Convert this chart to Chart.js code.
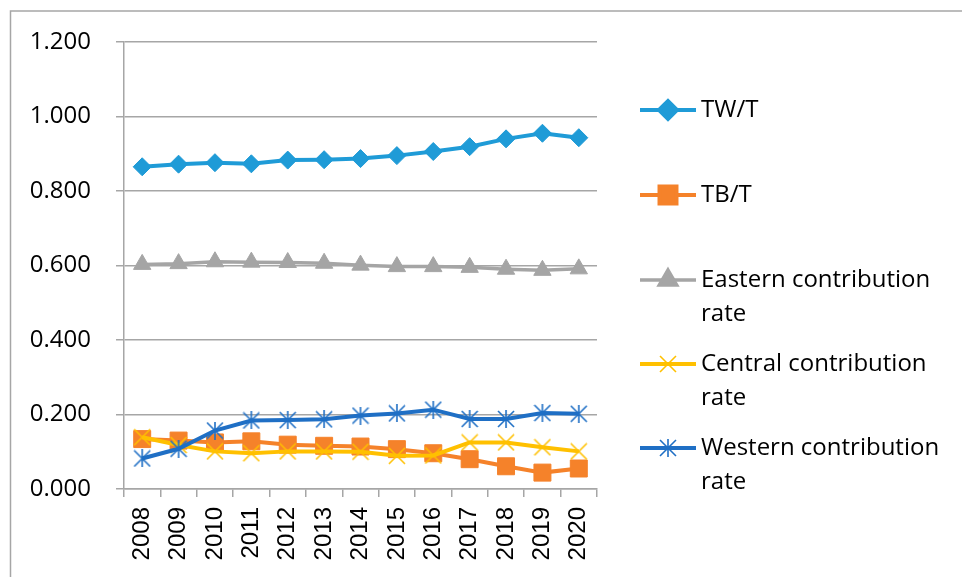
<!DOCTYPE html>
<html>
<head>
<meta charset="utf-8">
<script src="https://cdn.jsdelivr.net/npm/chart.js@4.4.1/dist/chart.umd.min.js"></script>
<style>
    html, body {margin: 0; padding: 0; background: #fff;}
    #wrap {position: relative; width: 962px; height: 577px;}
</style>
</head>
<body>
<div id="wrap"><canvas id="chart" width="962" height="577"></canvas></div>
<script>
const years = ['2008', '2009', '2010', '2011', '2012', '2013', '2014', '2015', '2016', '2017', '2018', '2019', '2020'];

const twT = [0.865, 0.872, 0.876, 0.873, 0.883, 0.884, 0.887, 0.895, 0.906, 0.919, 0.940, 0.955, 0.943];
const tbT = [0.134, 0.130, 0.125, 0.128, 0.119, 0.116, 0.114, 0.107, 0.096, 0.080, 0.061, 0.044, 0.055];
const eastern = [0.603, 0.605, 0.610, 0.609, 0.608, 0.606, 0.601, 0.597, 0.597, 0.595, 0.590, 0.587, 0.591];
const central = [0.139, 0.118, 0.101, 0.096, 0.101, 0.101, 0.100, 0.089, 0.090, 0.125, 0.125, 0.112, 0.101];
const western = [0.082, 0.108, 0.157, 0.184, 0.185, 0.187, 0.197, 0.203, 0.213, 0.188, 0.188, 0.204, 0.202];

const yTicks = [0, 0.2, 0.4, 0.6, 0.8, 1.0, 1.2];

const GRID = '#a6a6a6';
const LEGEND_X = 640;          // where legend line samples start
const LEGEND_TOP = 110;        // centre of first legend row
const LEGEND_STEP = [85, 85, 84, 84];
const LEGEND_LINE_H = 34;

// small canvases for the asterisk / cross markers
function markerCanvas(size, color, withVertical) {
    const c = document.createElement('canvas');
    c.width = size;
    c.height = size;
    const g = c.getContext('2d');
    g.strokeStyle = color;
    g.lineWidth = 1.6;
    g.beginPath();
    g.moveTo(1, 1); g.lineTo(size - 1, size - 1);
    g.moveTo(size - 1, 1); g.lineTo(1, size - 1);
    if (withVertical) {
        g.moveTo(size / 2, 0); g.lineTo(size / 2, size);
    }
    g.stroke();
    return c;
}

const crossMark = markerCanvas(18, '#ffc000', false);
const starMark = markerCanvas(18, '#1f6fc5', true);

const frame_plugin = {
    id: 'outerFrame',
    beforeDraw: (chart) => {
        const {ctx} = chart;
        ctx.save();
        ctx.fillStyle = '#fff';
        ctx.fillRect(0, 0, chart.width, chart.height);
        ctx.strokeStyle = '#a6a6a6';
        ctx.lineWidth = 1.5;
        ctx.beginPath();
        ctx.moveTo(10.5, chart.height);
        ctx.lineTo(10.5, 11);
        ctx.lineTo(chart.width, 11);
        ctx.stroke();
        ctx.restore();
    }
};

// legend on the right, wrapping long names onto a second row
const legend_plugin = {
    id: 'sideLegend',
    afterDraw: (chart) => {
        const {ctx} = chart;
        const maxW = chart.width - LEGEND_X - 70;
        ctx.save();
        ctx.font = '24px "Open Sans"';
        ctx.textBaseline = 'middle';
        ctx.textAlign = 'left';
        let y = LEGEND_TOP;
        chart.data.datasets.forEach((ds, i) => {
            // sample line
            ctx.strokeStyle = ds.borderColor;
            ctx.lineWidth = ds.borderWidth;
            ctx.beginPath();
            ctx.moveTo(LEGEND_X, y);
            ctx.lineTo(LEGEND_X + 56, y);
            ctx.stroke();
            // marker
            ctx.fillStyle = ds.pointBackgroundColor;
            ctx.strokeStyle = ds.pointBorderColor;
            Chart.helpers.drawPoint(ctx, {
                pointStyle: ds.pointStyle,
                radius: ds.pointRadius,
                rotation: 0,
                borderWidth: ds.pointBorderWidth
            }, LEGEND_X + 28, y);
            // label text, wrapped word by word
            const words = ds.label.split(' ');
            const lines = [];
            let cur = '';
            words.forEach(w => {
                const test = cur ? cur + ' ' + w : w;
                if (cur && ctx.measureText(test).width > maxW) {
                    lines.push(cur);
                    cur = w;
                } else {
                    cur = test;
                }
            });
            lines.push(cur);
            ctx.fillStyle = '#000';
            lines.forEach((l, k) => ctx.fillText(l, LEGEND_X + 61, y + k * LEGEND_LINE_H));
            y += LEGEND_STEP[i] || 0;
        });
        ctx.restore();
    }
};

function series(label, data, color, width, style, radius, order) {
    return {
        label: label,
        data: data,
        borderColor: color,
        backgroundColor: color,
        borderWidth: width,
        pointStyle: style,
        pointRadius: radius,
        pointHoverRadius: radius,
        pointBackgroundColor: color,
        pointBorderColor: color,
        pointBorderWidth: 1,
        tension: 0,
        order: order,
    };
}

const ctx = document.getElementById('chart').getContext('2d');
new Chart(ctx, {
    type: 'line',
    data: {
        labels: years,
        datasets: [
            series('TW/T', twT, '#1f9bd7', 4, 'rectRot', 9, 5),
            series('TB/T', tbT, '#f5822a', 4, 'rect', 12, 4),
            series('Eastern contribution rate', eastern, '#a5a5a5', 3.5, 'triangle', 10, 3),
            series('Central contribution rate', central, '#ffc000', 4, crossMark, 9, 2),
            series('Western contribution rate', western, '#1f6fc5', 4, starMark, 9, 1),
        ]
    },
    options: {
        responsive: false,
        animation: false,
        layout: {padding: {left: 0, top: 42, right: 365, bottom: 0}},
        scales: {
            x: {
                type: 'category',
                offset: true,
                grid: {
                    offset: true,
                    drawOnChartArea: false,
                    drawTicks: true,
                    tickLength: 8,
                    color: GRID,
                    lineWidth: 1.5,
                },
                border: {color: GRID, width: 1.5},
                ticks: {
                    autoSkip: false,
                    minRotation: 90,
                    maxRotation: 90,
                    padding: 10,
                    color: '#000',
                    font: {family: '"Liberation Sans", Arial', size: 24},
                },
                afterFit: s => { s.height = 88; },
            },
            y: {
                min: 0,
                max: 1.2,
                afterBuildTicks: s => { s.ticks = yTicks.map(v => ({value: v})); },
                grid: {
                    color: GRID,
                    lineWidth: 1.5,
                    tickLength: 8,
                },
                border: {color: GRID, width: 1.5},
                ticks: {
                    padding: 25,
                    color: '#000',
                    font: {family: '"Open Sans"', size: 24},
                    callback: v => v.toFixed(3),
                },
                afterFit: s => { s.width = 124; },
            }
        },
        plugins: {
            legend: {display: false},
            tooltip: {enabled: false},
        }
    },
    plugins: [frame_plugin, legend_plugin]
});
</script>
</body>
</html>
